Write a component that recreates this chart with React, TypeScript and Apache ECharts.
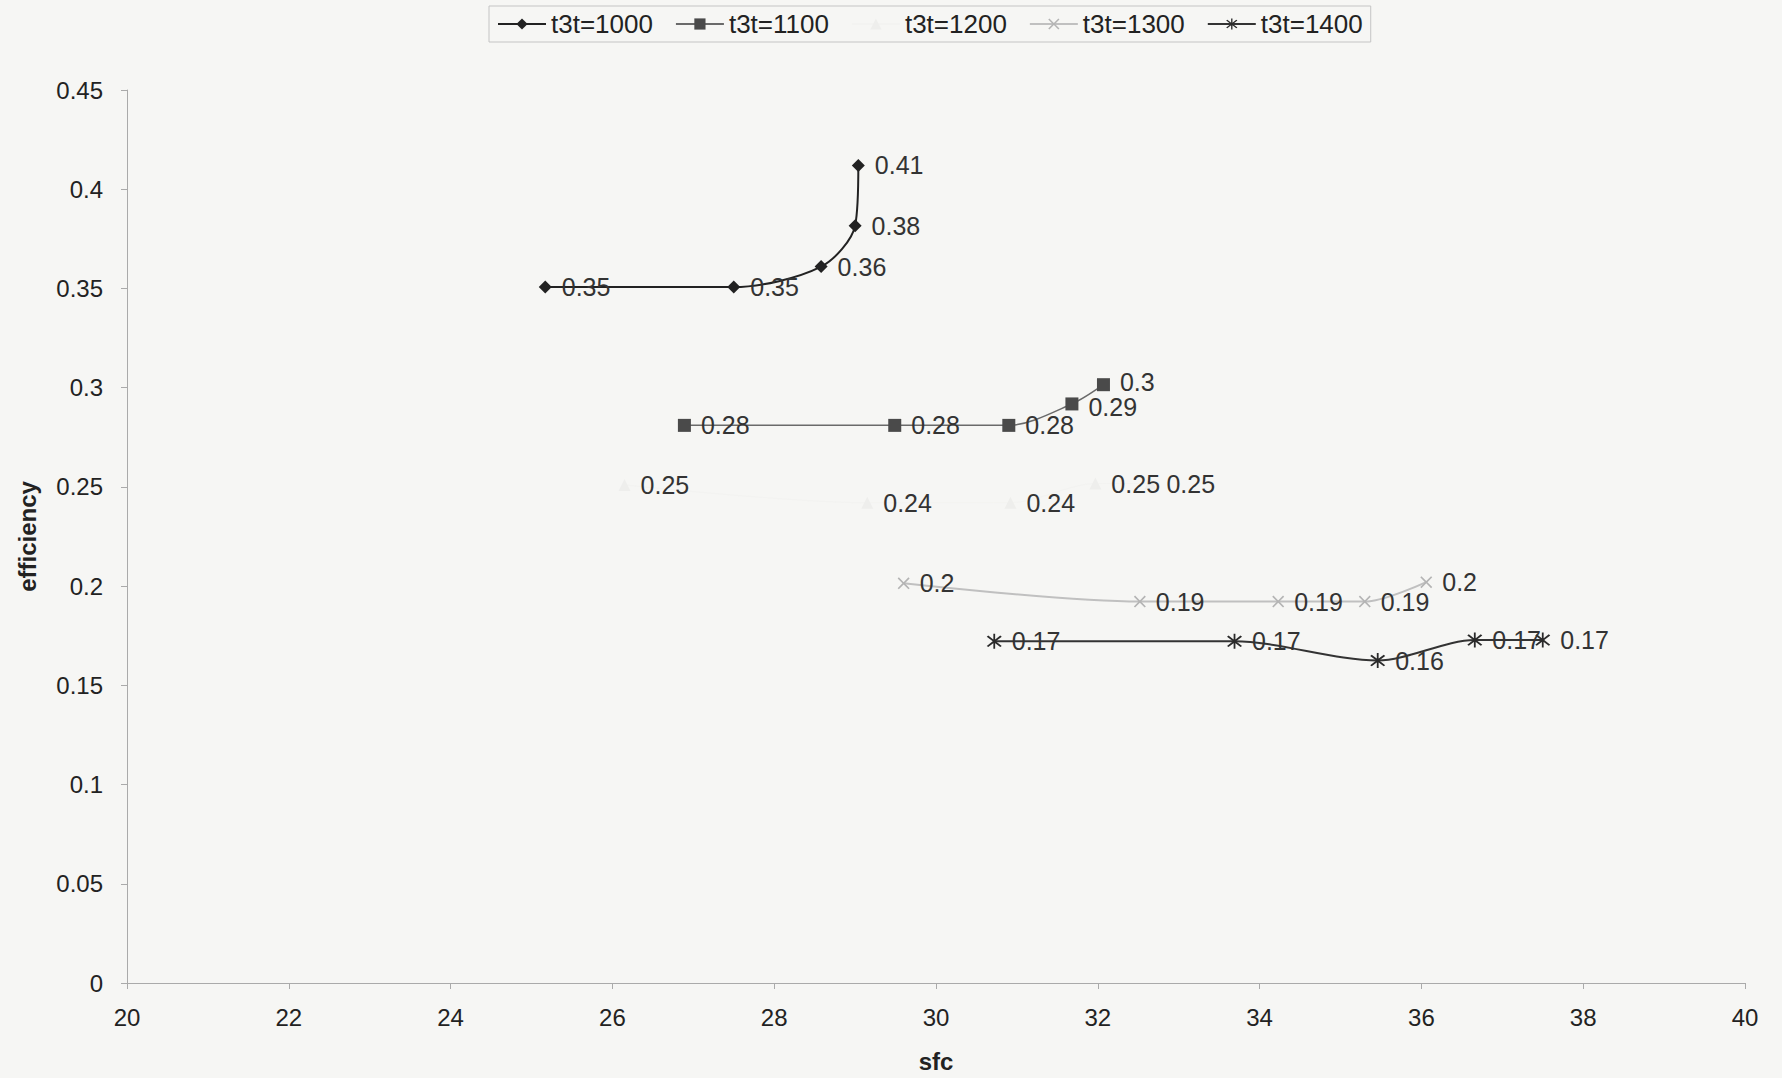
import React, { useEffect, useRef } from "react";
import * as echarts from "echarts";

const seriesNames = ["t3t=1000", "t3t=1100", "t3t=1200", "t3t=1300", "t3t=1400"];

const sfc1000 = [25.17, 27.5, 28.58, 29.0, 29.04];
const eff1000 = [0.3507, 0.3507, 0.361, 0.3816, 0.412];

const sfc1100 = [26.89, 29.49, 30.9, 31.68, 32.07];
const eff1100 = [0.281, 0.281, 0.281, 0.2918, 0.3015];

const sfc1200 = [26.15, 29.15, 30.92, 31.97, 32.65];
const eff1200 = [0.251, 0.242, 0.242, 0.2517, 0.2517];

const sfc1300 = [29.6, 32.52, 34.23, 35.3, 36.06];
const eff1300 = [0.2014, 0.1922, 0.1922, 0.1922, 0.202];

const sfc1400 = [30.72, 33.69, 35.46, 36.66, 37.5];
const eff1400 = [0.1722, 0.1722, 0.1625, 0.1728, 0.1728];

const xTicks = { min: 20, max: 40, interval: 2 };
const yTicks = { min: 0, max: 0.45, interval: 0.05 };

const FONT = "Liberation Sans, Arial, sans-serif";
const XSYM = "path://M1,0L5,4L9,0L10,1L6,5L10,9L9,10L5,6L1,10L0,9L4,5L0,1Z";
const STAR =
  "path://M1,0L5,4L9,0L10,1L6,5L10,9L9,10L5,6L1,10L0,9L4,5L0,1Z M4.4,-1.5L5.6,-1.5L5.6,11.5L4.4,11.5Z";

function pairs(xs: number[], ys: number[]) {
  return xs.map((x, i) => [x, ys[i]]);
}

const labelFmt = (p: any) => String(Number(p.value[1].toFixed(2)));

export default function App() {
  const ref = useRef<HTMLDivElement>(null);
  useEffect(() => {
    if (!ref.current) return;
    const chart = echarts.init(ref.current, undefined, { renderer: "svg" });
    const label = {
      show: true,
      position: "right",
      distance: 10,
      formatter: labelFmt,
      fontSize: 25,
      fontFamily: FONT,
      color: "#333",
    };
    const mk = (
      name: string,
      data: any[],
      symbol: string,
      symbolSize: number,
      markerColor: string,
      lineColor: string,
      lineWidth: number
    ) => ({
      name,
      type: "line",
      data,
      smooth: 0.3,
      symbol,
      symbolSize,
      showAllSymbol: true,
      itemStyle: { color: markerColor, opacity: 1 },
      lineStyle: { color: lineColor, width: lineWidth },
      label,
      z: 2,
    });
    const d1100: any[] = pairs(sfc1100, eff1100);
    d1100[3] = { value: d1100[3], label: { offset: [0, 3] } };
    d1100[4] = { value: d1100[4], label: { offset: [0, -3] } };
    chart.setOption({
      animation: false,
      backgroundColor: "#f6f6f4",
      textStyle: { fontFamily: FONT },
      legend: {
        left: 489,
        top: 6,
        padding: [5, 8],
        itemGap: 22,
        itemWidth: 48,
        itemHeight: 14,
        borderColor: "#c4c4c4",
        borderWidth: 1,
        textStyle: { fontSize: 26, color: "#222", fontFamily: FONT },
        data: seriesNames,
      },
      grid: { left: 127, right: 37, top: 90, bottom: 90 },
      xAxis: {
        type: "value",
        min: xTicks.min,
        max: xTicks.max,
        interval: xTicks.interval,
        name: "sfc",
        nameLocation: "middle",
        nameGap: 66,
        nameTextStyle: { fontSize: 24, fontWeight: "bold", color: "#222", fontFamily: FONT },
        axisLine: { lineStyle: { color: "#aaa", width: 1 } },
        axisTick: { show: true, length: 6, lineStyle: { color: "#aaa" } },
        axisLabel: { fontSize: 24, color: "#222", margin: 22, fontFamily: FONT },
        splitLine: { show: false },
      },
      yAxis: {
        type: "value",
        min: yTicks.min,
        max: yTicks.max,
        interval: yTicks.interval,
        name: "efficiency",
        nameLocation: "middle",
        nameGap: 88,
        nameTextStyle: { fontSize: 24, fontWeight: "bold", color: "#222", fontFamily: FONT },
        axisLine: { show: true, lineStyle: { color: "#aaa", width: 1 } },
        axisTick: { show: true, length: 6, lineStyle: { color: "#aaa" } },
        axisLabel: { fontSize: 24, color: "#222", margin: 24, fontFamily: FONT },
        splitLine: { show: false },
      },
      series: [
        mk(seriesNames[0], pairs(sfc1000, eff1000), "diamond", 13, "#222", "#222", 2),
        mk(seriesNames[1], d1100, "rect", 13, "#4a4a4a", "#6a6a6a", 1.5),
        mk(seriesNames[2], pairs(sfc1200, eff1200), "triangle", 12, "#eeeeec", "#f3f3f1", 1),
        mk(seriesNames[3], pairs(sfc1300, eff1300), XSYM, 12, "#b4b4b4", "#c0c0c0", 2),
        mk(seriesNames[4], pairs(sfc1400, eff1400), STAR, 15, "#2a2a2a", "#333", 2),
      ],
    });
    return () => chart.dispose();
  }, []);
  return (
    <div
      ref={ref}
      style={{ position: "fixed", left: 0, top: 0, width: 1782, height: 1078 }}
    />
  );
}
